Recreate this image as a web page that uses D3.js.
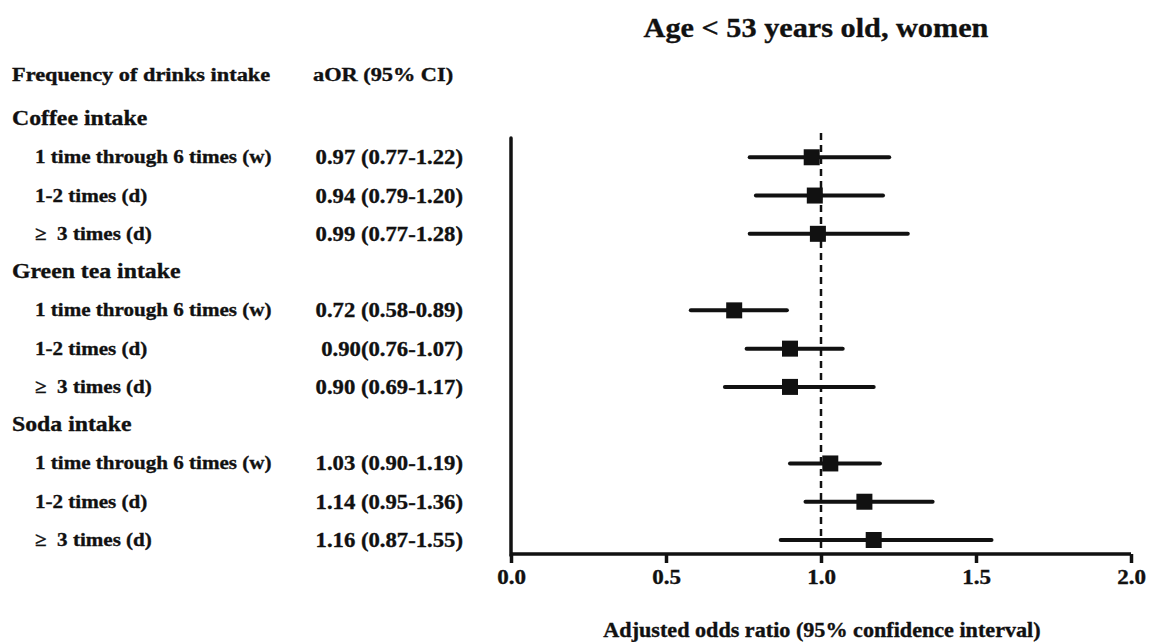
<!DOCTYPE html>
<html>
<head>
<meta charset="utf-8">
<script src="https://cdn.jsdelivr.net/npm/d3@7"></script>
<style>
  body { margin: 0; background: #fff; }
  text { font-family: "Liberation Serif", "Times New Roman", serif; font-weight: bold; fill: #111;
    stroke: #111; stroke-width: 0.35px; }
</style>
</head>
<body>
<svg id="chart" width="1158" height="642"></svg>
<script>
// rows in order, top to bottom (groups are header rows)
var rowLabels = ["Coffee intake", "1 time through 6 times (w)", "1-2 times (d)", "\u2265\u00a0\u00a03 times (d)",
  "Green tea intake", "1 time through 6 times (w)", "1-2 times (d)", "\u2265\u00a0\u00a03 times (d)",
  "Soda intake", "1 time through 6 times (w)", "1-2 times (d)", "\u2265\u00a0\u00a03 times (d)"];
var isGroup = [true, false, false, false, true, false, false, false, true, false, false, false];
var ciLabels = ["", "0.97 (0.77-1.22)", "0.94 (0.79-1.20)", "0.99 (0.77-1.28)",
  "", "0.72 (0.58-0.89)", "0.90(0.76-1.07)", "0.90 (0.69-1.17)",
  "", "1.03 (0.90-1.19)", "1.14 (0.95-1.36)", "1.16 (0.87-1.55)"];
// marker positions and CI limits as drawn in the plot
var orMark = [null, 0.97, 0.98, 0.99, null, 0.72, 0.90, 0.90, null, 1.03, 1.14, 1.17];
var ciLow = [null, 0.77, 0.79, 0.77, null, 0.58, 0.76, 0.69, null, 0.90, 0.95, 0.87];
var ciHigh = [null, 1.22, 1.20, 1.28, null, 0.89, 1.07, 1.17, null, 1.19, 1.36, 1.55];
var xTicks = [0, 0.5, 1.0, 1.5, 2.0];

var svg = d3.select("#chart");

var x = d3.scaleLinear().domain([0, 2]).range([511, 1131]);
var y = d3.scaleLinear().domain([0, 11]).range([119, 540]);

var rows = rowLabels.map(function(l, i) {
  return { label: l, group: isGroup[i], ci: ciLabels[i], or: orMark[i], lo: ciLow[i], hi: ciHigh[i], i: i };
});

// the original figure is a bit wider than its glyphs, so stretch text horizontally
function stretch(sel, k) {
  sel.each(function() {
    var w = this.getComputedTextLength();
    d3.select(this).attr("textLength", w * k).attr("lengthAdjust", "spacingAndGlyphs");
  });
}

// title + column headers
svg.append("text").attr("x", 816).attr("y", 37).attr("text-anchor", "middle")
  .style("font-size", "28px").text("Age < 53 years old, women").call(stretch, 1.08);
svg.append("text").attr("x", 12).attr("y", 81).style("font-size", "18px")
  .text("Frequency of drinks intake").call(stretch, 1.24);
svg.append("text").attr("x", 313).attr("y", 81).style("font-size", "18px")
  .text("aOR (95% CI)").call(stretch, 1.24);

// left table
svg.append("g").selectAll("text.lab")
  .data(rows).enter().append("text")
  .attr("class", "lab")
  .attr("x", function(d) { return d.group ? 12 : 35; })
  .attr("y", function(d) { return y(d.i) + (d.group ? 6 : 6); })
  .style("font-size", function(d) { return d.group ? "22px" : "19.5px"; })
  .text(function(d) { return d.label; })
  .call(stretch, 1.08);

svg.append("g").selectAll("text.ci")
  .data(rows.filter(function(d) { return !d.group; })).enter().append("text")
  .attr("class", "ci")
  .attr("x", 463).attr("text-anchor", "end")
  .attr("y", function(d) { return y(d.i) + 7; })
  .style("font-size", "21px")
  .text(function(d) { return d.ci; })
  .call(stretch, 1.08);

// axes
var yTop = 138, yBot = 554;
svg.append("line").attr("x1", x(0)).attr("x2", x(0)).attr("y1", yTop).attr("y2", yBot + 1.5)
  .attr("stroke", "#111").attr("stroke-width", 3.5).attr("stroke-linecap", "round");

var xAxis = svg.append("g")
  .attr("transform", "translate(0," + yBot + ")")
  .call(d3.axisBottom(x).tickValues(xTicks).tickSize(9).tickPadding(7)
    .tickFormat(d3.format(".1f")));
xAxis.select(".domain").attr("stroke", "#111").attr("stroke-width", 3.5)
  .attr("d", "M" + x(0) + ",0H" + x(2));
xAxis.selectAll(".tick line").attr("stroke", "#111").attr("stroke-width", 3.5);
xAxis.selectAll(".tick text").style("font-size", "20px")
  .style("font-family", "Liberation Serif").style("font-weight", "bold").attr("fill", "#111")
  .call(stretch, 1.15);

svg.append("text").attr("x", 822).attr("y", 637).attr("text-anchor", "middle")
  .style("font-size", "20.5px").text("Adjusted odds ratio (95% confidence interval)")
  .call(stretch, 1.08);

// reference line at OR = 1
svg.append("line").attr("x1", x(1)).attr("x2", x(1)).attr("y1", 133).attr("y2", yBot)
  .attr("stroke", "#111").attr("stroke-width", 2.5).attr("stroke-dasharray", "7,5");

// CI lines + squares
var pts = rows.filter(function(d) { return !d.group; });
svg.append("g").selectAll("line.ci")
  .data(pts).enter().append("line")
  .attr("x1", function(d) { return x(d.lo); })
  .attr("x2", function(d) { return x(d.hi); })
  .attr("y1", function(d) { return y(d.i); })
  .attr("y2", function(d) { return y(d.i); })
  .attr("stroke", "#111").attr("stroke-width", 4).attr("stroke-linecap", "round");

var sq = 16;
svg.append("g").selectAll("rect")
  .data(pts).enter().append("rect")
  .attr("x", function(d) { return x(d.or) - sq / 2; })
  .attr("y", function(d) { return y(d.i) - sq / 2; })
  .attr("width", sq).attr("height", sq)
  .attr("fill", "#111");
</script>
</body>
</html>
